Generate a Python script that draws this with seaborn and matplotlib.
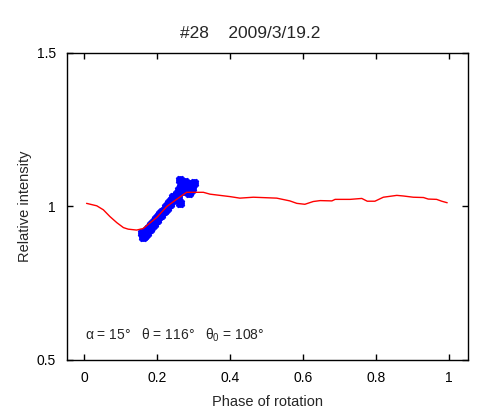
import matplotlib
matplotlib.use("Agg")
import matplotlib.pyplot as plt
import seaborn as sns

# model lightcurve (red line)
model_phase = [0.007, 0.035, 0.053, 0.071, 0.090, 0.108, 0.121, 0.144, 0.162,
               0.200, 0.227, 0.250, 0.281, 0.327, 0.345, 0.400, 0.427, 0.464,
               0.528, 0.564, 0.583, 0.605, 0.628, 0.647, 0.679, 0.688, 0.729,
               0.761, 0.776, 0.797, 0.820, 0.857, 0.875, 0.902, 0.930, 0.943,
               0.966, 0.980, 0.995]
model_int = [1.010, 1.002, 0.989, 0.967, 0.947, 0.931, 0.926, 0.923, 0.928,
             0.965, 1.000, 1.020, 1.046, 1.046, 1.040, 1.032, 1.027, 1.030,
             1.027, 1.018, 1.010, 1.007, 1.016, 1.019, 1.018, 1.023, 1.023,
             1.026, 1.017, 1.017, 1.030, 1.036, 1.034, 1.030, 1.029, 1.024,
             1.023, 1.017, 1.012]

# observed points (blue)
obs_phase = [0.159, 0.161, 0.163, 0.166, 0.168, 0.170, 0.172, 0.175, 0.177,
             0.180, 0.183, 0.186, 0.188, 0.191, 0.194, 0.197, 0.200, 0.203,
             0.206, 0.209, 0.212, 0.215, 0.218, 0.221, 0.224, 0.227, 0.230,
             0.233, 0.236, 0.239, 0.242, 0.245, 0.248, 0.251, 0.254, 0.257,
             0.260, 0.263, 0.266, 0.263, 0.272, 0.275, 0.278, 0.281, 0.284,
             0.287, 0.290, 0.293, 0.296, 0.300]
obs_int = [0.915, 0.902, 0.905, 0.915, 0.908, 0.920, 0.912, 0.925, 0.930,
           0.927, 0.938, 0.935, 0.945, 0.942, 0.952, 0.958, 0.955, 0.965,
           0.968, 0.975, 0.972, 0.982, 0.985, 0.990, 0.998, 0.995, 1.005,
           1.010, 1.008, 1.018, 1.022, 1.030, 1.025, 1.035, 1.040, 1.032,
           1.055, 1.086, 1.062, 1.011, 1.070, 1.050, 1.078, 1.058, 1.065,
           1.045, 1.072, 1.055, 1.060, 1.077]

sns.set_style("ticks")
plt.rcParams["font.family"] = ["Liberation Sans", "DejaVu Sans"]
plt.rcParams["mathtext.fontset"] = "custom"
plt.rcParams["mathtext.rm"] = "Liberation Sans"
plt.rcParams["mathtext.it"] = "Liberation Sans"

fig = plt.figure(figsize=(5, 4.2), dpi=100)
ax = fig.add_axes([0.134, 0.143, 0.802, 0.731])

# blue crosses: draw a "+" and an "x" on each point
sns.scatterplot(x=obs_phase, y=obs_int, ax=ax, marker="P", s=38,
                color="#0000ff", edgecolor="#0000ff", linewidth=0.6, zorder=2)
sns.scatterplot(x=obs_phase, y=obs_int, ax=ax, marker="X", s=38,
                color="#0000ff", edgecolor="#0000ff", linewidth=0.6, zorder=2)
sns.lineplot(x=model_phase, y=model_int, ax=ax, color="#ff0000",
             linewidth=1.0, sort=False, zorder=3)

ax.set_xlim(-0.0466, 1.052)
ax.set_ylim(0.5, 1.5)
ax.set_xticks([0, 0.2, 0.4, 0.6, 0.8, 1])
ax.set_xticklabels(["0", "0.2", "0.4", "0.6", "0.8", "1"])
ax.set_yticks([0.5, 1, 1.5])
ax.set_yticklabels(["0.5", "1", "1.5"])
ax.tick_params(direction="in", length=4, width=1, top=True, right=True,
               labelsize=10, colors="black", pad=8)
for sp in ax.spines.values():
    sp.set_linewidth(1)
    sp.set_color("black")

ax.set_xlabel("Phase of rotation", fontsize=10.5, labelpad=7)
ax.set_ylabel("Relative intensity", fontsize=10.5, labelpad=3)
fig.text(0.5, 0.921, "#28    2009/3/19.2", fontsize=12.5, ha="center",
         va="center", fontweight="medium")

ax.text(0.003, 0.581, r"$\alpha$ = 15°   $\theta$ = 116°   $\theta_0$ = 108°",
        fontsize=10, va="center", ha="left")

fig.savefig("out.png", dpi=100)
